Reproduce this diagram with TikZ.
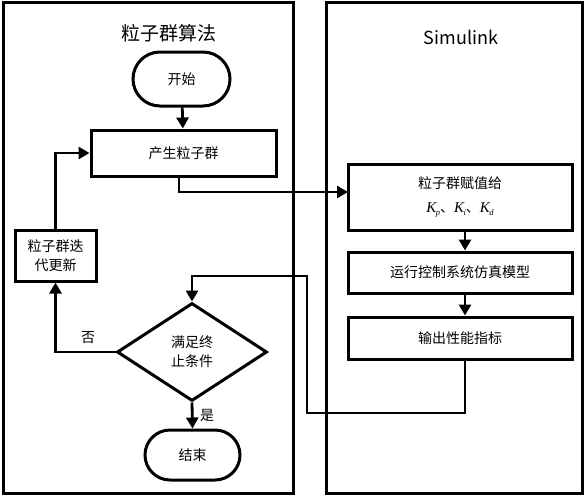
\documentclass[tikz,border=0pt]{standalone}
\usepackage{fontspec}
\setmainfont{Noto Sans CJK SC}
\newfontfamily\tnr{Liberation Serif}
\usetikzlibrary{arrows.meta,shapes.geometric,shapes.misc}
\newcommand{\Kx}[1]{{\tnr\itshape\fontsize{15}{17}\selectfont K\kern-0.5pt\raisebox{-0.35ex}{\fontsize{8.5}{8.5}\selectfont #1}}}
\begin{document}
\begin{tikzpicture}[x=1pt,y=-1pt,
  every node/.style={font=\fontsize{14}{17}\selectfont},
  panel/.style={draw,line width=3pt},
  box/.style={draw,line width=3pt,rectangle,inner sep=0pt,align=center},
  term/.style={draw,line width=3pt,rounded rectangle,inner sep=0pt,align=center},
  cond/.style={draw,line width=3pt,diamond,inner sep=0pt,align=center},
  link/.style={line width=2.8pt,-{Triangle[width=12pt,length=11pt]}},
  plain/.style={line width=2.8pt}]
\useasboundingbox (0,0) rectangle (585,495);
\draw[panel] (3,3) rectangle (293,493);
\draw[panel] (326,3) rectangle (582,493);
\node[font=\fontsize{19}{22}\selectfont] (t1) at (169,33) {粒子群算法};
\node[font=\fontsize{18}{22}\selectfont] (t2) at (461,37) {Simulink};
\node[term,minimum width=97pt,minimum height=54pt] (start) at (181.5,79) {开始};
\node[box,minimum width=185pt,minimum height=46pt] (gen) at (183.5,153) {产生粒子群};
\node[box,minimum width=81pt,minimum height=51pt,font=\fontsize{14}{19}\selectfont] (upd) at (55.5,255.5) {粒子群迭\\代更新};
\node[cond,minimum width=150pt,minimum height=98pt,font=\fontsize{14}{19}\selectfont] (dec) at (192,352) {满足终\\止条件};
\node[term,minimum width=95pt,minimum height=50pt] (fin) at (192.5,455) {结束};
\node[box,minimum width=224pt,minimum height=66pt] (assign) at (460,197.5) {};
\node (at1) at (460,183) {粒子群赋值给};
\node (at2) at (460,210) {\Kx{p}、\Kx{i}、\Kx{d}};
\node[box,minimum width=224pt,minimum height=41pt] (run) at (460,272.5) {运行控制系统仿真模型};
\node[box,minimum width=224pt,minimum height=42pt] (out) at (460,338) {输出性能指标};
\coordinate (g1) at (179,192);
\coordinate (a1) at (348,192);
\coordinate (c1) at (307,413);
\coordinate (c2) at (307,276);
\draw[link] (start) -- (gen);
\draw[link] (gen.south -| g1) -- (g1) -- (a1);
\draw[link] ([xshift=5pt]assign.south) -- ([xshift=5pt]run.north);
\draw[link] ([xshift=5pt]run.south) -- ([xshift=5pt]out.north);
\draw[link] ([xshift=5pt]out.south) |- (c1) -- (c2) -| (dec.north);
\draw[link] (dec.south) -- (fin.north);
\draw[link] (dec.west) -| (upd.south);
\draw[link] (upd.north) |- (gen.west);
\node (yes) at (207,415) {是};
\node (no) at (88,338) {否};
\end{tikzpicture}
\end{document}
